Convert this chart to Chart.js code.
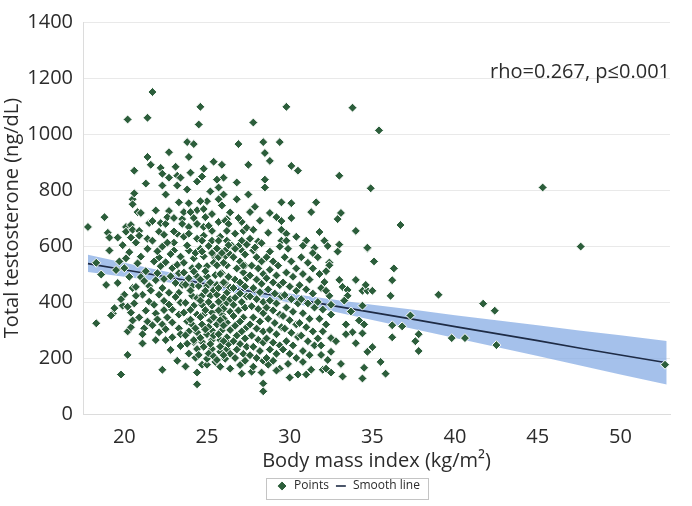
<!DOCTYPE html>
<html>
<head>
<meta charset="utf-8">
<script src="https://cdn.jsdelivr.net/npm/chart.js@4.4.1/dist/chart.umd.min.js"></script>
<style>
  html, body { margin: 0; padding: 0; background: #fff; }
  #wrap { width: 692px; height: 506px; }
</style>
</head>
<body>
<div id="wrap"><canvas id="bmiChart"></canvas></div>
<script>
// BMI (kg/m2) vs total testosterone (ng/dL)
const observations = [
  [17.8,668],[18.3,540],[18.3,324],[18.9,461],[18.8,703],[19.0,647],[19.1,630],[19.1,584],[19.3,359],[19.2,352],[19.5,514],[19.6,468],[19.6,630],[18.6,498],[19.4,378],
  [20.2,1052],[20.1,668],[20.4,675],[20.1,651],[20.4,630],[20.1,556],[20.0,521],[19.9,387],[20.2,383],[20.0,426],[20.2,295],[20.4,310],[20.2,211],[19.8,141],[20.5,450],[20.5,334],[19.7,545],[20.3,490],[19.9,603],[20.3,578],[19.8,410],[20.4,362],
  [20.6,869],[20.5,767],[20.5,749],[20.6,788],[20.8,721],[21.0,718],[20.5,658],[20.9,654],[20.9,637],[21.4,626],[21.4,918],[21.3,823],[21.4,1058],[21.5,682],[20.8,538],[21.3,510],[21.0,489],[20.7,454],[21.1,426],[20.7,422],[21.5,457],[21.5,401],[21.3,369],[21.2,306],[21.1,285],[20.9,345],[21.4,590],[21.0,562],[20.7,612],[21.2,475],[21.4,330],[20.6,395],[21.1,252],
  [21.7,1150],[21.6,890],[21.7,689],[21.7,619],[22.1,651],[22.2,682],[22.5,679],[22.4,640],[22.2,879],[22.3,858],[22.3,816],[22.5,784],[22.3,598],[22.2,528],[22.1,559],[22.5,542],[21.9,478],[22.3,450],[22.1,426],[21.8,390],[21.9,359],[21.7,317],[22.1,292],[21.9,264],[22.3,320],[22.5,303],[22.3,158],[22.5,264],[21.8,545],[22.0,503],[22.4,482],[22.0,581],[22.4,404],[21.6,441],[22.0,338],[22.4,371],[21.9,727],
  [22.7,935],[23.1,883],[23.2,851],[22.7,844],[23.4,844],[23.2,816],[23.3,756],[22.7,725],[22.6,703],[23.0,700],[23.5,696],[23.5,679],[23.2,644],[23.0,584],[22.9,521],[23.3,503],[22.8,492],[23.3,433],[23.5,461],[22.7,433],[22.6,345],[22.9,373],[23.3,355],[22.9,327],[23.3,306],[22.9,274],[23.2,190],[23.4,562],[23.0,612],[22.8,571],[23.1,468],[23.4,398],[22.7,391],[23.1,418],[23.4,243],[22.8,229],[23.2,533],[23.0,652],[23.4,285],[22.6,612],
  [23.8,971],[24.2,964],[23.9,918],[24.4,830],[23.8,802],[23.9,753],[24.4,728],[23.6,721],[24.0,721],[24.2,700],[23.9,668],[24.4,679],[23.6,633],[23.9,644],[24.4,626],[23.9,584],[23.7,397],[23.8,331],[23.9,295],[24.2,257],[24.4,148],[24.4,106],[24.4,232],[24.2,264],[24.4,292],[24.1,320],[24.4,355],[24.2,387],[24.1,422],[24.1,457],[23.9,485],[24.4,492],[24.1,521],[24.2,556],[23.6,540],[23.8,602],[24.3,575],[23.7,462],[24.0,441],[23.6,362],[24.0,372],[23.7,281],[24.3,201],[23.9,216],[24.2,509],[24.4,414],[23.6,505],[24.0,337],[24.3,306],[23.8,251],[24.0,862],[23.7,170],
  [24.6,1097],[24.5,1034],[25.4,901],[24.8,876],[24.7,848],[25.0,760],[24.8,732],[24.9,703],[25.3,714],[24.8,668],[25.3,654],[24.8,637],[24.7,619],[25.3,619],[25.5,584],[25.1,672],[24.5,211],[24.7,176],[25.0,176],[25.0,197],[25.3,232],[24.7,257],[25.3,264],[25.0,285],[25.3,299],[24.7,320],[25.2,334],[24.8,355],[25.3,362],[24.7,390],[25.3,387],[24.7,422],[25.2,422],[24.5,457],[25.0,457],[25.0,492],[25.5,496],[24.5,528],[25.0,528],[24.8,563],[25.5,559],[25.5,186],[25.1,600],[24.6,590],[25.4,540],[24.9,510],[25.2,470],[24.6,480],[24.9,440],[25.4,442],[24.6,405],[25.1,400],[24.9,371],[25.4,345],[24.6,346],[25.1,311],[24.9,302],[25.4,280],[24.6,272],[25.2,250],[24.8,240],[25.1,216],[25.4,206],[24.7,580],[25.3,575],[25.2,795],[24.6,760],
  [25.9,890],[26.0,844],[25.6,837],[25.7,809],[26.0,784],[25.7,767],[25.7,686],[26.2,696],[26.1,690],[26.3,679],[25.8,633],[26.2,654],[25.7,619],[26.2,619],[26.5,601],[25.6,591],[26.1,584],[25.6,193],[25.8,222],[26.2,232],[26.1,197],[25.8,264],[26.2,274],[25.9,299],[25.6,320],[26.2,327],[25.9,355],[25.9,387],[26.2,397],[25.6,426],[26.2,433],[25.6,461],[26.1,468],[25.9,503],[25.6,531],[26.2,531],[26.1,563],[25.8,169],[26.4,162],[26.0,540],[25.7,560],[26.4,570],[25.8,500],[26.3,490],[26.0,470],[25.7,450],[26.4,452],[26.0,415],[25.7,401],[26.4,410],[26.0,376],[25.7,370],[26.4,365],[26.0,341],[25.8,335],[26.4,300],[26.0,316],[25.7,285],[26.3,250],[26.0,260],[25.8,241],[26.4,215],[26.0,210],[26.3,603],[25.9,575],[26.4,720],[25.9,745],
  [26.9,964],[27.5,890],[26.8,827],[27.5,784],[26.8,767],[27.6,721],[27.1,686],[26.7,644],[27.2,654],[27.4,665],[27.1,619],[27.6,626],[27.1,584],[27.1,144],[26.6,560],[27.0,545],[27.3,530],[26.8,520],[27.2,505],[27.4,485],[26.7,480],[27.0,470],[26.6,450],[27.3,455],[27.0,430],[26.7,415],[27.4,420],[27.1,400],[26.6,390],[27.3,380],[26.9,370],[26.6,350],[27.2,345],[27.0,330],[26.7,315],[27.4,310],[27.1,295],[26.8,280],[27.3,270],[26.6,260],[27.0,250],[27.4,240],[26.8,230],[27.2,215],[26.7,200],[27.3,190],[27.0,175],[27.4,605],[26.9,600],[26.7,590],[27.3,570],[26.9,700],[27.2,530],
  [27.8,1041],[28.4,971],[28.5,932],[28.5,837],[28.5,809],[27.8,658],[28.1,616],[27.8,584],[28.4,109],[28.4,81],[28.3,148],[27.7,151],[27.8,169],[28.0,560],[28.3,545],[27.7,530],[28.1,520],[28.4,500],[27.6,495],[28.0,480],[28.3,465],[27.8,450],[28.2,435],[27.6,420],[28.0,410],[28.4,400],[27.7,385],[28.1,375],[28.4,360],[27.8,345],[28.2,330],[27.6,320],[28.0,305],[28.4,295],[27.7,280],[28.1,265],[28.4,255],[27.8,240],[28.2,225],[27.6,210],[28.0,200],[28.4,190],[27.9,595],[28.3,610],[28.2,690],[27.9,740],
  [29.4,971],[28.8,904],[29.5,756],[28.8,718],[29.2,703],[29.5,689],[28.7,647],[29.5,658],[29.5,619],[28.8,580],[29.4,598],[28.7,176],[29.4,162],[29.2,155],[28.6,560],[29.0,545],[29.3,530],[28.8,515],[29.2,495],[28.6,485],[29.0,470],[29.4,460],[28.7,445],[29.1,430],[29.5,420],[28.8,405],[29.2,395],[28.6,380],[29.0,370],[29.4,355],[28.7,340],[29.1,325],[29.5,310],[28.8,300],[29.2,285],[28.6,270],[29.0,255],[29.4,245],[28.8,230],[29.2,215],[28.6,200],[29.0,190],
  [29.8,1097],[30.1,886],[30.5,869],[30.1,753],[30.1,700],[29.8,644],[29.8,619],[30.4,633],[30.0,130],[30.5,141],[29.9,179],[29.7,560],[30.1,545],[30.4,520],[29.8,505],[30.2,490],[29.6,470],[30.0,455],[30.4,440],[29.7,425],[30.1,410],[30.5,395],[29.8,380],[30.2,365],[29.6,350],[30.0,335],[30.4,320],[29.7,305],[30.1,290],[30.5,275],[29.8,260],[30.2,245],[29.6,230],[30.0,215],[30.4,200],[29.9,590],
  [31.6,756],[31.3,721],[31.0,619],[31.5,594],[30.8,601],[31.0,141],[31.3,158],[30.8,186],[30.7,560],[31.1,540],[31.4,520],[30.8,500],[31.2,480],[30.6,460],[31.0,445],[31.4,430],[30.7,410],[31.1,395],[31.5,380],[30.8,360],[31.2,340],[30.6,325],[31.0,310],[31.4,295],[30.7,280],[31.1,260],[31.5,245],[30.8,225],[31.2,210],[31.4,575],
  [32.1,619],[32.4,541],[32.4,531],[32.2,510],[32.1,471],[32.4,422],[32.5,390],[32.5,355],[32.0,373],[32.0,295],[32.5,271],[32.5,222],[32.3,193],[31.9,211],[32.5,148],[32.0,158],[32.2,162],[31.7,560],[31.8,500],[31.9,450],[31.7,400],[32.2,440],[31.8,340],[32.2,320],[31.7,270],[31.9,245],[32.3,600],[31.8,650],
  [33.0,851],[33.1,718],[32.9,696],[33.0,605],[32.9,580],[34.7,591],[35.1,545],[36.3,520],[36.2,478],[36.1,422],[34.0,479],[33.0,479],[33.2,454],[33.5,443],[33.5,422],[34.4,440],[34.7,440],[35.0,440],[34.6,461],[39.0,426],
  [34.4,387],[33.7,366],[37.3,352],[36.2,317],[36.8,313],[37.8,285],[37.6,260],[37.8,225],[36.2,274],[39.8,271],[40.6,271],[42.5,246],[41.7,394],[42.4,369],[52.7,176],[33.4,320],[34.2,334],[34.5,320],[34.4,288],[33.8,292],
  [33.4,285],[34.0,253],[35.0,239],[34.7,222],[33.1,179],[35.5,186],[34.5,165],[35.8,144],[34.4,127],[33.2,134],[33.8,1094],[35.4,1013],[34.9,806],[45.3,809],[47.6,598],[36.7,675],[34.0,654],[34.7,594],[33.3,405],[32.8,260]
];

// fitted line and its confidence band
const fitBmi   = [17.8, 20, 22.5, 25, 27.5, 30, 32.5, 35, 37.5, 40, 42.5, 45, 47.5, 50, 52.8];
const fitLine  = [537, 515, 490, 464, 439, 414, 388, 363, 338, 312, 287, 262, 236, 211, 183];
const bandHigh = [569, 540, 509, 480, 453, 430, 410, 390, 372, 353, 335, 317, 298, 281, 261];
const bandLow  = [507, 490, 471, 450, 425, 398, 368, 336, 304, 271, 239, 207, 174, 141, 105];

const xTicks = [20, 25, 30, 35, 40, 45, 50];
const statText = "rho=0.267, p\u22640.001";

const FONT = "'Open Sans', 'DejaVu Sans', sans-serif";
const TEXT = "#2b2b2b";

function pairs(xs, ys) {
  return xs.map((x, i) => ({ x: x, y: ys[i] }));
}

// stat label, legend nudge and box round the legend
const extras = {
  id: "extras",
  afterLayout(chart) {
    chart.legend.left += 13;
    chart.legend.right += 13;
  },
  afterDraw(chart) {
    const ctx = chart.ctx;
    const area = chart.chartArea;
    ctx.save();
    ctx.fillStyle = TEXT;
    ctx.font = "20px " + FONT;
    ctx.textAlign = "right";
    ctx.textBaseline = "middle";
    ctx.fillText(statText, area.right, 72);

    const boxes = chart.legend.legendHitBoxes;
    if (boxes && boxes.length) {
      let l = Infinity, r = -Infinity;
      boxes.forEach(b => { l = Math.min(l, b.left); r = Math.max(r, b.left + b.width); });
      ctx.strokeStyle = "#c4c4c4";
      ctx.lineWidth = 1;
      ctx.strokeRect(Math.round(l - 10) + 0.5, 478.5, Math.round(r - l + 18), 21);
    }
    ctx.restore();
  }
};

new Chart(document.getElementById("bmiChart"), {
  type: "scatter",
  data: {
    datasets: [
      {
        label: "Points",
        data: observations.map(p => ({ x: p[0], y: p[1] })),
        backgroundColor: "#2c5e3b",
        borderColor: "#ffffff",
        borderWidth: 1,
        pointStyle: "rectRot",
        pointRadius: 4.5,
        order: 0
      },
      {
        label: "Smooth line",
        type: "line",
        data: pairs(fitBmi, fitLine),
        borderColor: "#1e2b45",
        backgroundColor: "#1e2b45",
        borderWidth: 1.6,
        pointRadius: 0,
        pointStyle: "line",
        fill: false,
        order: 1
      },
      {
        label: "band-high",
        type: "line",
        data: pairs(fitBmi, bandHigh),
        borderWidth: 0,
        pointRadius: 0,
        backgroundColor: "rgba(140,176,230,0.78)",
        fill: "+1",
        order: 2
      },
      {
        label: "band-low",
        type: "line",
        data: pairs(fitBmi, bandLow),
        borderWidth: 0,
        pointRadius: 0,
        fill: false,
        order: 2
      }
    ]
  },
  options: {
    responsive: true,
    maintainAspectRatio: false,
    animation: false,
    layout: { padding: { left: 0, right: 22, top: 6, bottom: 4 } },
    plugins: {
      tooltip: { enabled: false },
      legend: {
        position: "bottom",
        labels: {
          usePointStyle: true,
          boxHeight: 7,
          padding: 6,
          color: TEXT,
          font: { family: FONT, size: 12 },
          filter: item => item.text === "Points" || item.text === "Smooth line"
        }
      }
    },
    scales: {
      x: {
        type: "linear",
        min: 17.5,
        max: 53,
        afterBuildTicks: scale => { scale.ticks = xTicks.map(v => ({ value: v })); },
        afterFit: scale => { scale.height = 60; },
        grid: { display: false },
        border: { color: "#dcdcdc" },
        ticks: { color: TEXT, font: { family: FONT, size: 20 }, padding: 3 },
        title: {
          display: true,
          text: "Body mass index (kg/m\u00b2)",
          color: TEXT,
          font: { family: FONT, size: 20 },
          padding: { top: 0, bottom: 1 }
        }
      },
      y: {
        min: 0,
        max: 1400,
        ticks: {
          stepSize: 200,
          color: TEXT,
          font: { family: FONT, size: 20 },
          padding: 10,
          callback: v => String(v)
        },
        grid: { color: "#e9e9e9", drawTicks: false },
        border: { color: "#dcdcdc" },
        afterFit: scale => { scale.width = 83; },
        title: {
          display: true,
          text: "Total testosterone (ng/dL)",
          color: TEXT,
          font: { family: FONT, size: 20 },
          padding: { top: 0, bottom: 0 }
        }
      }
    }
  },
  plugins: [extras]
});
</script>
</body>
</html>
